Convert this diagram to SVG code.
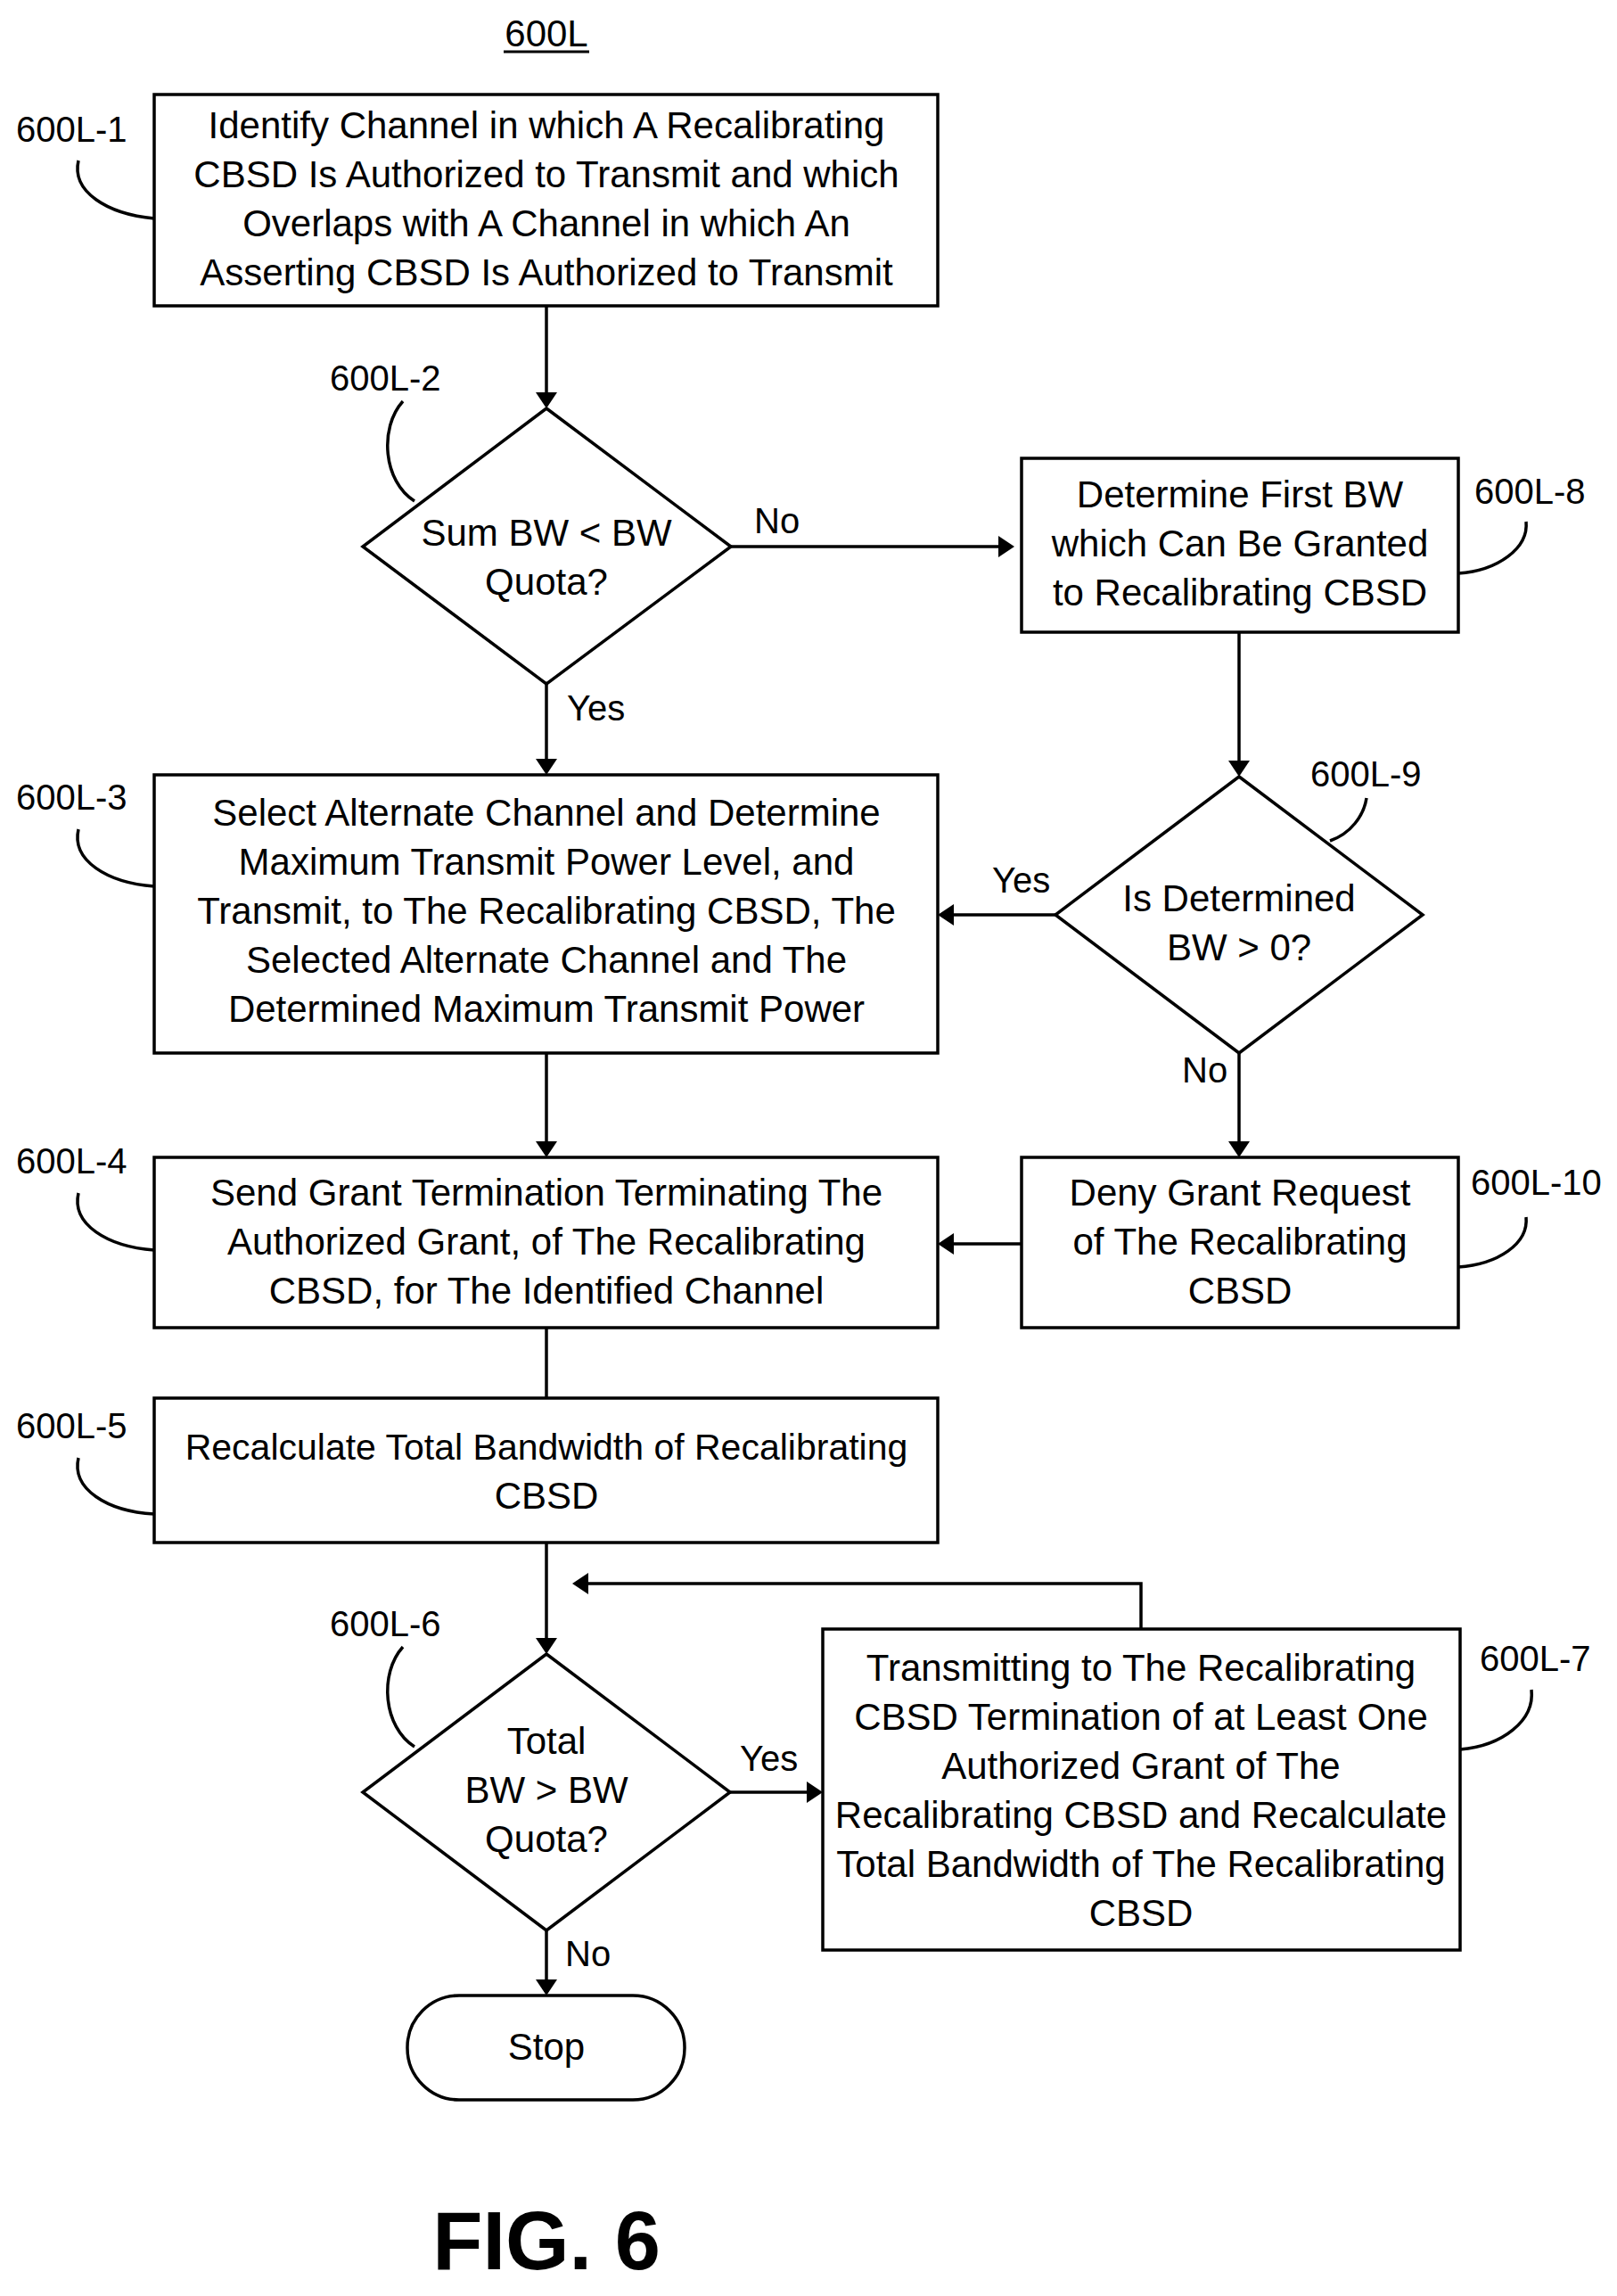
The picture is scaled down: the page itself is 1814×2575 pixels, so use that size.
<svg xmlns="http://www.w3.org/2000/svg" width="1814" height="2575" viewBox="0 0 1814 2575">
<defs>
<style>
.b{fill:#fff;stroke:#000;stroke-width:3.5}
.t{font-family:"Liberation Sans",Arial,sans-serif;font-size:42px;text-anchor:middle;fill:#000}
.l{font-family:"Liberation Sans",Arial,sans-serif;font-size:40px;fill:#000}
.c{fill:none;stroke:#000;stroke-width:3.5}
</style>
</defs>
<rect width="1814" height="2575" fill="#fff"/>
<text class="t" x="613" y="52">600L</text>
<line x1="565" y1="58" x2="661" y2="58" stroke="#000" stroke-width="3"/>
<g id="connectors">
<line class="c" x1="613" y1="343" x2="613" y2="452"/><path d="M601,440 L613,458 L625,440z"/>
<line class="c" x1="820" y1="613" x2="1125" y2="613"/><path d="M1120,601 L1138,613 L1120,625z"/>
<text class="l" x="846" y="598">No</text>
<line class="c" x1="1390" y1="709" x2="1390" y2="860"/><path d="M1378,853 L1390,871 L1402,853z"/>
<line class="c" x1="1184" y1="1026" x2="1062" y2="1026"/><path d="M1070,1014 L1052,1026 L1070,1038z"/>
<text class="l" x="1113" y="1001">Yes</text>
<line class="c" x1="613" y1="767" x2="613" y2="858"/><path d="M601,851 L613,869 L625,851z"/>
<text class="l" x="636" y="808">Yes</text>
<line class="c" x1="613" y1="1181" x2="613" y2="1287"/><path d="M601,1280 L613,1298 L625,1280z"/>
<line class="c" x1="1390" y1="1181" x2="1390" y2="1287"/><path d="M1378,1280 L1390,1298 L1402,1280z"/>
<text class="l" x="1326" y="1214">No</text>
<line class="c" x1="1146" y1="1395" x2="1062" y2="1395"/><path d="M1070,1383 L1052,1395 L1070,1407z"/>
<line class="c" x1="613" y1="1489" x2="613" y2="1568"/>
<line class="c" x1="613" y1="1730" x2="613" y2="1844"/><path d="M601,1837 L613,1855 L625,1837z"/>
<polyline class="c" points="1280,1827 1280,1776 652,1776"/><path d="M660,1764 L642,1776 L660,1788z"/>
<line class="c" x1="819" y1="2010" x2="912" y2="2010"/><path d="M905,1998 L923,2010 L905,2022z"/>
<text class="l" x="830" y="1986">Yes</text>
<line class="c" x1="613" y1="2165" x2="613" y2="2227"/><path d="M601,2220 L613,2238 L625,2220z"/>
<text class="l" x="634" y="2205">No</text>
</g>
<g id="n1"><rect class="b" x="173" y="106" width="879" height="237"/>
<text class="t" x="613" y="155">Identify Channel in which A Recalibrating</text>
<text class="t" x="613" y="210">CBSD Is Authorized to Transmit and which</text>
<text class="t" x="613" y="265">Overlaps with A Channel in which An</text>
<text class="t" x="613" y="320">Asserting CBSD Is Authorized to Transmit</text>
<text class="l" x="18" y="159">600L-1</text><path class="c" d="M88,180 C80,215 120,240 173,245"/></g>
<g id="n2"><polygon class="b" points="613,458 820,613 613,767 407,613"/>
<text class="t" x="613" y="612">Sum BW &lt; BW</text>
<text class="t" x="613" y="667">Quota?</text>
<text class="l" x="370" y="438">600L-2</text><path class="c" d="M452,450 C425,480 430,540 465,562"/></g>
<g id="n8"><rect class="b" x="1146" y="514" width="490" height="195"/>
<text class="t" x="1391" y="569">Determine First BW</text>
<text class="t" x="1391" y="624">which Can Be Granted</text>
<text class="t" x="1391" y="679">to Recalibrating CBSD</text>
<text class="l" x="1654" y="565">600L-8</text><path class="c" d="M1636,643 C1680,640 1715,615 1712,585"/></g>
<g id="n9"><polygon class="b" points="1390,871 1596,1026 1390,1181 1184,1026"/>
<text class="t" x="1390" y="1022">Is Determined</text>
<text class="t" x="1390" y="1077">BW &gt; 0?</text>
<text class="l" x="1470" y="882">600L-9</text><path class="c" d="M1492,943 C1515,935 1530,915 1533,895"/></g>
<g id="n3"><rect class="b" x="173" y="869" width="879" height="312"/>
<text class="t" x="613" y="926">Select Alternate Channel and Determine</text>
<text class="t" x="613" y="981">Maximum Transmit Power Level, and</text>
<text class="t" x="613" y="1036">Transmit, to The Recalibrating CBSD, The</text>
<text class="t" x="613" y="1091">Selected Alternate Channel and The</text>
<text class="t" x="613" y="1146">Determined Maximum Transmit Power</text>
<text class="l" x="18" y="908">600L-3</text><path class="c" d="M88,930 C80,965 120,990 173,994"/></g>
<g id="n4"><rect class="b" x="173" y="1298" width="879" height="191"/>
<text class="t" x="613" y="1352">Send Grant Termination Terminating The</text>
<text class="t" x="613" y="1407">Authorized Grant, of The Recalibrating</text>
<text class="t" x="613" y="1462">CBSD, for The Identified Channel</text>
<text class="l" x="18" y="1316">600L-4</text><path class="c" d="M88,1338 C80,1373 120,1398 173,1402"/></g>
<g id="n10"><rect class="b" x="1146" y="1298" width="490" height="191"/>
<text class="t" x="1391" y="1352">Deny Grant Request</text>
<text class="t" x="1391" y="1407">of The Recalibrating</text>
<text class="t" x="1391" y="1462">CBSD</text>
<text class="l" x="1650" y="1340">600L-10</text><path class="c" d="M1636,1421 C1680,1418 1715,1395 1712,1365"/></g>
<g id="n5"><rect class="b" x="173" y="1568" width="879" height="162"/>
<text class="t" x="613" y="1637" style="font-size:41px">Recalculate Total Bandwidth of Recalibrating</text>
<text class="t" x="613" y="1692">CBSD</text>
<text class="l" x="18" y="1613">600L-5</text><path class="c" d="M88,1635 C80,1670 120,1695 173,1698"/></g>
<g id="n6"><polygon class="b" points="613,1855 819,2010 613,2165 407,2010"/>
<text class="t" x="613" y="1967">Total</text>
<text class="t" x="613" y="2022">BW &gt; BW</text>
<text class="t" x="613" y="2077">Quota?</text>
<text class="l" x="370" y="1835">600L-6</text><path class="c" d="M452,1847 C425,1877 430,1937 465,1959"/></g>
<g id="n7"><rect class="b" x="923" y="1827" width="715" height="360"/>
<text class="t" x="1280" y="1885">Transmitting to The Recalibrating</text>
<text class="t" x="1280" y="1940">CBSD Termination of at Least One</text>
<text class="t" x="1280" y="1995">Authorized Grant of The</text>
<text class="t" x="1280" y="2050">Recalibrating CBSD and Recalculate</text>
<text class="t" x="1280" y="2105">Total Bandwidth of The Recalibrating</text>
<text class="t" x="1280" y="2160">CBSD</text>
<text class="l" x="1660" y="1874">600L-7</text><path class="c" d="M1638,1962 C1685,1958 1722,1930 1718,1895"/></g>
<g id="stop"><rect class="b" x="457" y="2238" width="311" height="117" rx="58"/>
<text class="t" x="613" y="2310">Stop</text></g>
<text x="613" y="2545" font-family="Liberation Sans,Arial,sans-serif" font-size="92" font-weight="bold" text-anchor="middle">FIG. 6</text>
</svg>
